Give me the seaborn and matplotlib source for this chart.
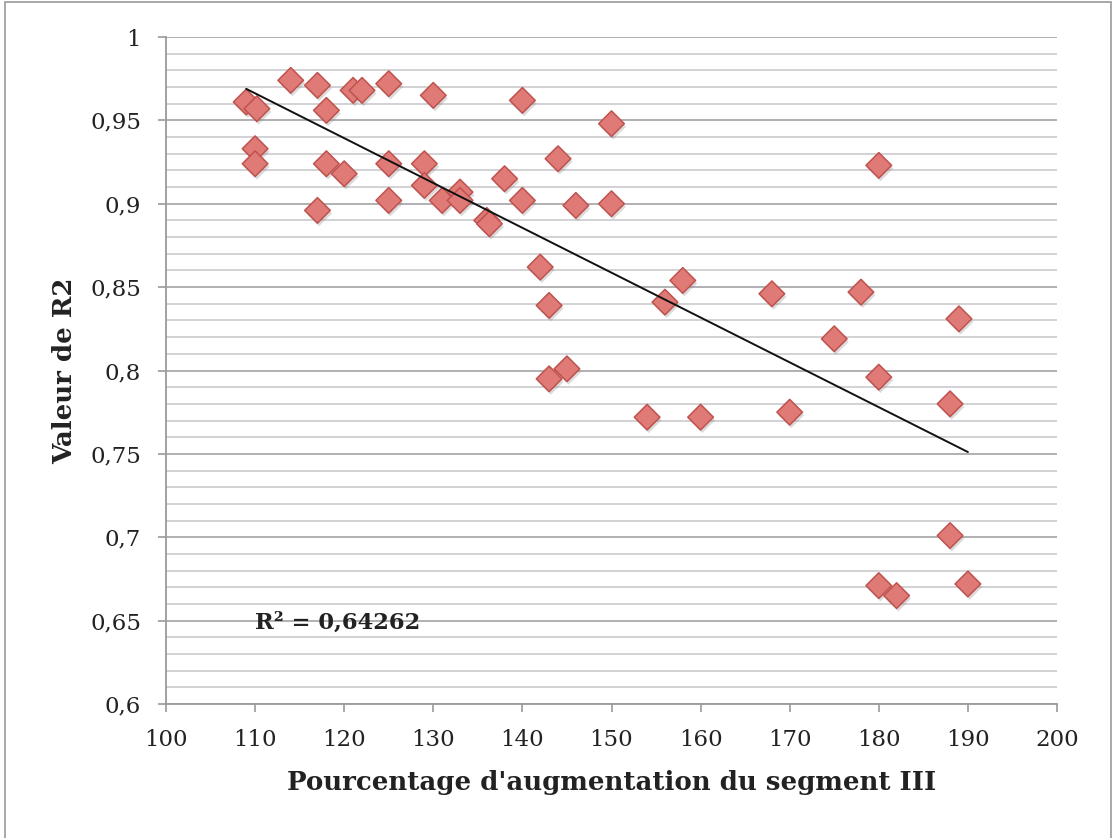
import matplotlib
matplotlib.use("Agg")
import matplotlib.pyplot as plt
import matplotlib.patheffects as pe
from matplotlib.patches import Rectangle
from matplotlib.ticker import MultipleLocator, FuncFormatter
import numpy as np
import pandas as pd
import seaborn as sns

# Pourcentage d'augmentation du segment III vs. valeur de R2
pct_increase = [109, 110.2, 110, 110, 114, 117, 118, 117, 118, 120,
                121, 122, 125, 125, 125, 130, 129, 129, 131, 133,
                133, 136, 136.3, 140, 150, 144, 138, 140, 146, 150,
                142, 143, 145, 143, 154, 160, 158, 156, 168, 180,
                178, 189, 175, 180, 188, 170, 188, 180, 182, 190]
r2_values = [0.961, 0.957, 0.933, 0.924, 0.974, 0.971, 0.956, 0.896, 0.924, 0.918,
             0.968, 0.968, 0.972, 0.924, 0.902, 0.965, 0.924, 0.911, 0.902, 0.907,
             0.902, 0.890, 0.888, 0.962, 0.948, 0.927, 0.915, 0.902, 0.899, 0.900,
             0.862, 0.839, 0.801, 0.795, 0.772, 0.772, 0.854, 0.841, 0.846, 0.923,
             0.847, 0.831, 0.819, 0.796, 0.780, 0.775, 0.701, 0.671, 0.665, 0.672]
r2_label = "R² = 0,64262"

df = pd.DataFrame({"pct": pct_increase, "r2": r2_values})

sns.set_style("white")
plt.rcParams["font.family"] = ["DejaVu Serif", "DejaVu Sans"]

fig = plt.figure(figsize=(11.13, 8.38), dpi=100)
ax = fig.add_axes([166 / 1113, 1 - 704 / 838, 891 / 1113, 667 / 838])

# horizontal grid: light minor lines every 0.01, darker major lines every 0.05
ax.set_xlim(100, 200)
ax.set_ylim(0.6, 1.0)
ax.yaxis.set_major_locator(MultipleLocator(0.05))
ax.yaxis.set_minor_locator(MultipleLocator(0.01))
ax.xaxis.set_major_locator(MultipleLocator(10))
ax.grid(axis="y", which="minor", color="#c6c6c9", lw=1.1, zorder=0)
ax.grid(axis="y", which="major", color="#a3a3a6", lw=1.2, zorder=0)
ax.grid(axis="x", visible=False)
ax.set_axisbelow(True)

sns.scatterplot(data=df, x="pct", y="r2", ax=ax, marker="D", s=170,
                color="#df7a76", edgecolor="#bf524e", linewidth=1.1, zorder=3,
                legend=False)
ax.collections[-1].set_path_effects([
    pe.SimplePatchShadow(offset=(1.2, -2.2), shadow_rgbFace="#888888", alpha=0.3),
    pe.Normal()])

# linear trend line
sns.regplot(data=df, x="pct", y="r2", ax=ax, scatter=False, ci=None,
            line_kws=dict(color="#111111", lw=1.4, zorder=4))

ax.text(110, 0.649, r2_label, fontsize=16.3, fontweight="bold", color="#222222",
        ha="left", va="center", zorder=5)

for side in ("top", "right"):
    ax.spines[side].set_visible(False)
for side in ("left", "bottom"):
    ax.spines[side].set_color("#9a9a9a")
    ax.spines[side].set_linewidth(1.3)

fmt = FuncFormatter(lambda v, _: f"{v:g}".replace(".", ","))
ax.yaxis.set_major_formatter(fmt)
ax.tick_params(axis="y", which="major", left=True, length=6, width=1.2,
               color="#9a9a9a", labelsize=16.5, pad=12, labelcolor="#222222")
ax.tick_params(axis="y", which="minor", left=False)
ax.tick_params(axis="x", bottom=True, length=6, width=1.2, color="#9a9a9a",
               labelsize=16.5, pad=12, labelcolor="#222222")

ax.set_xlabel("Pourcentage d'augmentation du segment III", fontsize=18.7,
              fontweight="bold", color="#222222", va="center")
ax.set_ylabel("Valeur de R2", fontsize=18.7, fontweight="bold", color="#222222",
              va="center")
ax.xaxis.set_label_coords(0.5, -0.118)
ax.yaxis.set_label_coords(-0.114, 0.5)

# outer chart frame
fig.patches.append(Rectangle((5 / 1113, -0.01), 1106 / 1113, 1 - 2 / 838 + 0.01,
                             transform=fig.transFigure, fill=False,
                             edgecolor="#9a9a9a", lw=1.2))

fig.savefig("out.png", dpi=100)
